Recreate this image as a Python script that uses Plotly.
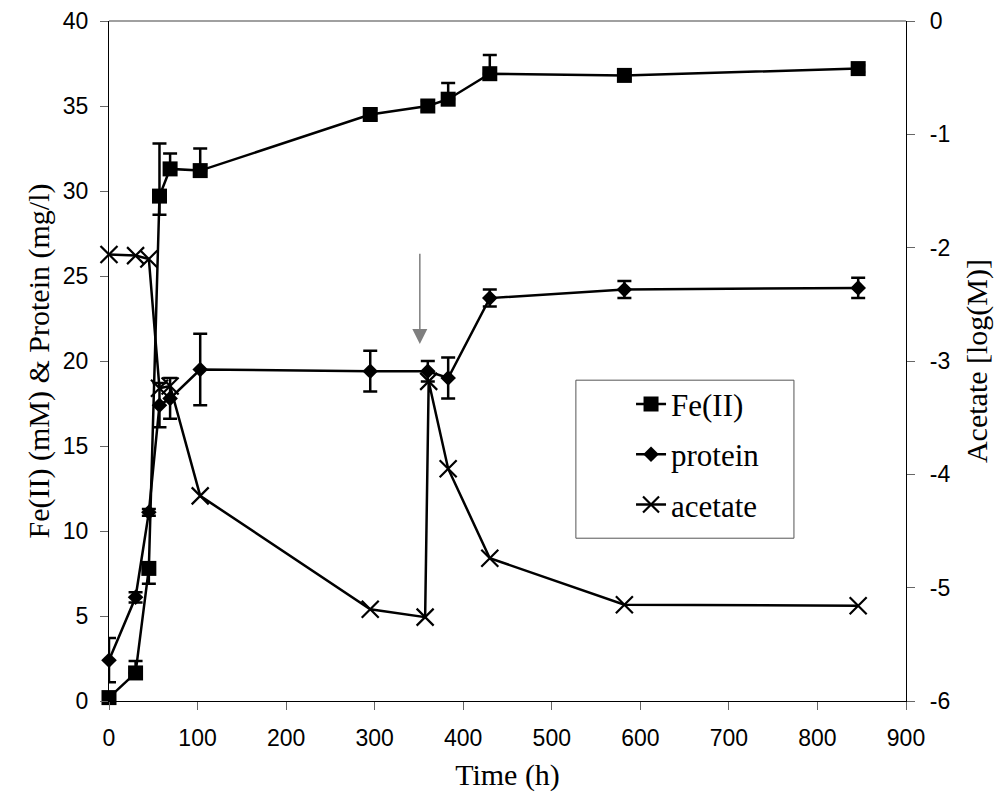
import plotly.graph_objects as go

# ---- data ----
time_h = [0, 30, 45, 57, 69, 103, 295, 360, 383, 430, 582, 846]
fe_mM = [0.2, 1.65, 7.8, 29.7, 31.3, 31.2, 34.5, 35.0, 35.4, 36.9, 36.8, 37.2]
fe_err_plus = [0, 0.7, 0, 3.1, 0.9, 1.3, 0.3, 0.3, 0.95, 1.1, 0.2, 0.2]
fe_err_minus = [0, 0, 0.9, 1.1, 0, 0, 0.3, 0.3, 0, 0, 0.2, 0.2]

protein_mgl = [2.4, 6.1, 11.1, 17.4, 17.8, 19.5, 19.4, 19.4, 19.0, 23.7, 24.2, 24.3]
protein_err = [1.3, 0.3, 0.2, 1.3, 1.2, 2.1, 1.2, 0.6, 1.2, 0.5, 0.5, 0.6]

acetate_time_h = [0, 30, 45, 57, 69, 103, 295, 357, 361, 383, 430, 582, 846]
acetate_logM = [-2.06, -2.07, -2.10, -3.24, -3.22, -4.19, -5.19, -5.26, -3.18, -3.95, -4.74, -5.15, -5.16]

x_ticks = [0, 100, 200, 300, 400, 500, 600, 700, 800, 900]
y_left_ticks = [0, 5, 10, 15, 20, 25, 30, 35, 40]
y_right_ticks = [-6, -5, -4, -3, -2, -1, 0]
y_right_labels = ["-6", "-5", "-4", "-3", "-2", "-1", "0"]

# acetate addition arrow (time, left-axis start, left-axis tip)
arrow_time = 351
arrow_from = 26.4
arrow_to = 21.0

# ---- styles ----
SANS = "Liberation Sans, Arial, sans-serif"
SERIF = "Liberation Serif, Times New Roman, serif"
TICK_FONT = dict(family=SANS, size=23, color="black")
TITLE_FONT = dict(family=SERIF, size=30, color="black")
LINE_W = 2.5

fig = go.Figure()

fig.add_trace(go.Scatter(
    x=time_h, y=fe_mM, name="Fe(II)", mode="lines+markers",
    line=dict(color="black", width=LINE_W),
    marker=dict(symbol="square", size=15, color="black"),
    error_y=dict(type="data", symmetric=False, array=fe_err_plus, arrayminus=fe_err_minus,
                 color="black", thickness=2.5, width=7),
    cliponaxis=False, legendgroup="a",
))
fig.add_trace(go.Scatter(
    x=time_h, y=protein_mgl, name="protein", mode="lines+markers",
    line=dict(color="black", width=LINE_W),
    marker=dict(symbol="diamond", size=12, color="black"),
    error_y=dict(type="data", array=protein_err, color="black", thickness=2.5, width=7),
    cliponaxis=False, legendgroup="b",
))
fig.add_trace(go.Scatter(
    x=acetate_time_h, y=acetate_logM, name="acetate", mode="lines+markers", yaxis="y2",
    line=dict(color="black", width=LINE_W),
    marker=dict(symbol="x-thin", size=17, color="black", line=dict(color="black", width=2.2)),
    cliponaxis=False, legendgroup="c",
))

fig.add_annotation(
    x=arrow_time, y=arrow_to, ax=arrow_time, ay=arrow_from,
    xref="x", yref="y", axref="x", ayref="y",
    text="", showarrow=True, arrowhead=2, arrowsize=2.0, arrowwidth=1.5, arrowcolor="#7f7f7f",
)

# plot-area top border and legend frame
fig.add_shape(type="line", xref="paper", yref="paper", x0=0, x1=1, y0=1, y1=1,
              line=dict(color="#808080", width=1.3))
fig.add_shape(type="rect", xref="paper", yref="paper", x0=0.5858, x1=0.8594, y0=0.2394, y1=0.4718,
              line=dict(color="#555555", width=1), fillcolor="rgba(0,0,0,0)")

fig.update_layout(
    width=1002, height=795, autosize=False,
    margin=dict(l=109, r=96, t=21, b=94),
    paper_bgcolor="white", plot_bgcolor="white",
    showlegend=True,
    legend=dict(
        x=0.655, y=0.476, xanchor="left", yanchor="top",
        font=dict(family=SERIF, size=31, color="black"),
        bgcolor="rgba(0,0,0,0)", borderwidth=0, tracegroupgap=7,
    ),
    xaxis=dict(
        range=[0, 900], tickvals=x_ticks, ticks="outside", ticklen=8, tickcolor="#666666",
        showline=True, linecolor="black", linewidth=1.3, showgrid=False, zeroline=False,
        tickfont=TICK_FONT, ticklabelstandoff=8, automargin=False,
        title=dict(text="Time (h)", font=TITLE_FONT, standoff=14),
    ),
    yaxis=dict(
        range=[0, 40], tickvals=y_left_ticks, ticks="outside", ticklen=8, tickcolor="#666666",
        showline=True, linecolor="black", linewidth=1.3, showgrid=False, zeroline=False,
        tickfont=TICK_FONT, ticklabelstandoff=7, automargin=False,
        title=dict(text="Fe(II) (mM) &amp; Protein (mg/l)", font=TITLE_FONT, standoff=4),
    ),
    yaxis2=dict(
        range=[-6, 0], tickvals=y_right_ticks, ticktext=y_right_labels, overlaying="y", side="right",
        ticks="outside", ticklen=8, tickcolor="#666666",
        showline=True, linecolor="black", linewidth=1.3, showgrid=False, zeroline=False,
        tickfont=TICK_FONT, ticklabelstandoff=10, automargin=False,
        title=dict(text="Acetate [log(M)]", font=TITLE_FONT, standoff=16),
    ),
)

fig.write_html("out.html")
